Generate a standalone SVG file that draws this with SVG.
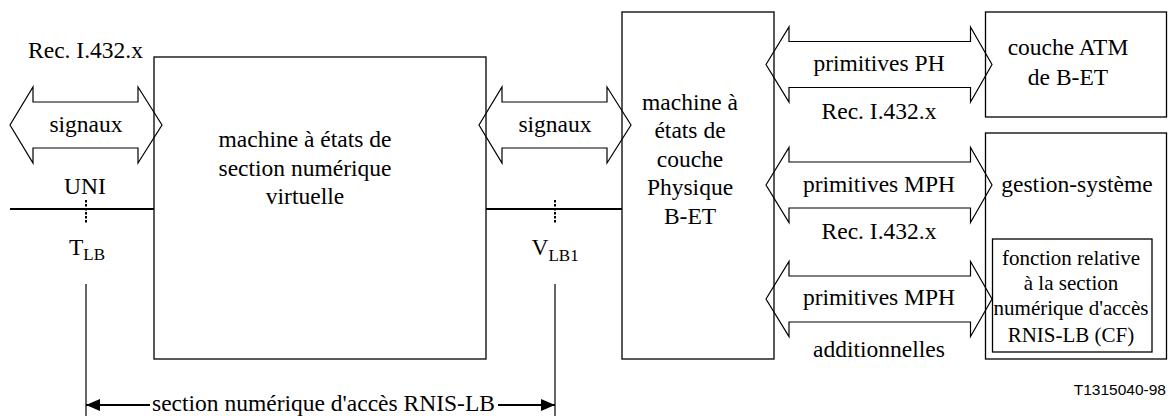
<svg xmlns="http://www.w3.org/2000/svg" width="1171" height="416" viewBox="0 0 1171 416" font-family="'Liberation Serif', 'DejaVu Serif', serif">
<style>
text{font-family:'Liberation Serif','Times New Roman',Times,'DejaVu Serif',serif;font-size:23.5px;fill:#000}
.c{text-anchor:middle}
.sm{font-size:21px}
.sub{font-size:17px}
.box{fill:none;stroke:#000;stroke-width:1.3}
.arr{fill:#fff;stroke:#000;stroke-width:1.2;stroke-linejoin:miter}
.ln{stroke:#000;stroke-width:2.2;fill:none}
.tick{stroke:#000;stroke-width:2;stroke-dasharray:2.5,1.5;fill:none}
.thin{stroke:#000;stroke-width:1.2;fill:none}
text.id{font-family:'Liberation Sans',Arial,sans-serif;font-size:15.5px;text-anchor:end}
</style>
<defs>
<marker id="ah" markerUnits="userSpaceOnUse" markerWidth="14" markerHeight="12" refX="14" refY="6" orient="auto">
<path d="M0,0 L14,6 L0,12 Z" fill="#000"/>
</marker>
</defs>
<g id="connectors">
<path class="arr" d="M10,125 L33,87 L33,102 L138,102 L138,87 L162,125 L138,163 L138,148 L33,148 L33,163 Z"/>
<path class="arr" d="M479,125 L502,87 L502,102 L607,102 L607,87 L631,125 L607,163 L607,148 L502,148 L502,163 Z"/>
<path class="arr" d="M766,64.5 L789,27 L789,41.5 L970.5,41.5 L970.5,27 L992,64.5 L970.5,102 L970.5,87.5 L789,87.5 L789,102 Z"/>
<path class="arr" d="M766,185 L789,147.5 L789,162 L970.5,162 L970.5,147.5 L992,185 L970.5,222.5 L970.5,208 L789,208 L789,222.5 Z"/>
<path class="arr" d="M766,299 L789,261.5 L789,276 L970.5,276 L970.5,261.5 L992,299 L970.5,336.5 L970.5,322 L789,322 L789,336.5 Z"/>
<line class="ln" x1="10" y1="209" x2="154" y2="209"/>
<line class="ln" x1="486" y1="209" x2="622" y2="209"/>
<line class="tick" x1="86" y1="200" x2="86" y2="223"/>
<line class="tick" x1="555" y1="200" x2="555" y2="223"/>
<line class="thin" x1="86" y1="284" x2="86" y2="416"/>
<line class="thin" x1="555" y1="284" x2="555" y2="416"/>
<line class="ln" x1="150" y1="405" x2="86" y2="405" marker-end="url(#ah)"/>
<line class="ln" x1="498" y1="405" x2="555" y2="405" marker-end="url(#ah)"/>
</g>
<g id="labels">
<text class="c" x="85.5" y="58">Rec. I.432.x</text>
<text class="c" x="86" y="131.5">signaux</text>
<text class="c" x="85" y="194">UNI</text>
<text x="69" y="255">T<tspan class="sub" dy="5">LB</tspan></text>
<text class="c" x="555" y="131.5">signaux</text>
<text x="531.5" y="254.5">V<tspan class="sub" dy="6">LB1</tspan></text>
<text class="c" x="879" y="70.5">primitives PH</text>
<text class="c" x="879" y="118.5">Rec. I.432.x</text>
<text class="c" x="879" y="191.5">primitives MPH</text>
<text class="c" x="879" y="238.5">Rec. I.432.x</text>
<text class="c" x="879" y="305">primitives MPH</text>
<text class="c" x="879" y="356.5">additionnelles</text>
<text class="c" x="323.5" y="411">section numérique d'accès RNIS-LB</text>
<text class="id" x="1166" y="395">T1315040-98</text>
</g>
<g id="node-virtual">
<rect class="box" x="154" y="57" width="332" height="302"/>
<text class="c" x="305" y="147">machine à états de</text>
<text class="c" x="305" y="175.5">section numérique</text>
<text class="c" x="305" y="204">virtuelle</text>
</g>
<g id="node-physique">
<rect class="box" x="622" y="12" width="152" height="347"/>
<text class="c" x="690" y="109.5">machine à</text>
<text class="c" x="690" y="138">états de</text>
<text class="c" x="690" y="166.5">couche</text>
<text class="c" x="690" y="195">Physique</text>
<text class="c" x="690" y="223.5">B-ET</text>
</g>
<g id="node-atm">
<rect class="box" x="985.5" y="12" width="181" height="105"/>
<text class="c" x="1068" y="55">couche ATM</text>
<text class="c" x="1068" y="85">de B-ET</text>
</g>
<g id="node-gestion">
<rect class="box" x="985.5" y="133" width="181" height="226"/>
<text class="c" x="1077" y="191.5">gestion-système</text>
</g>
<g id="node-cf">
<rect class="box" x="992.5" y="239" width="159.5" height="113"/>
<text class="c sm" x="1071" y="265">fonction relative</text>
<text class="c sm" x="1071" y="290">à la section</text>
<text class="c sm" x="1071" y="315">numérique d'accès</text>
<text class="c sm" x="1071" y="341.5">RNIS-LB (CF)</text>
</g>
</svg>
